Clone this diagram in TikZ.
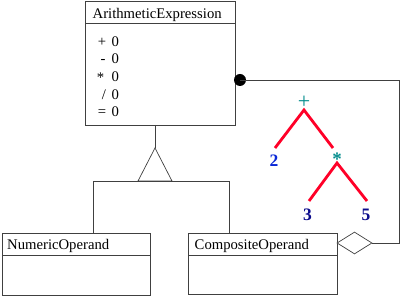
\documentclass[tikz,border=0pt]{standalone}
\usepackage{fontspec}
\setmainfont{Liberation Serif}
\usetikzlibrary{shapes.geometric}
\definecolor{opteal}{RGB}{0,140,140}
\definecolor{numblue}{RGB}{10,40,215}
\definecolor{numnavy}{RGB}{10,10,140}
\definecolor{treered}{RGB}{255,0,40}
\begin{document}
\begin{tikzpicture}[x=1pt,y=-1pt,
  umlline/.style={draw=black!75, line width=0.7pt},
  classbox/.style={draw=black!75, line width=0.7pt, inner sep=0pt, anchor=north west},
  lbl/.style={font=\fontsize{14.7}{16}\selectfont, inner sep=0pt, anchor=base west},
  oplbl/.style={font=\fontsize{14.7}{16}\selectfont, inner sep=0pt, anchor=base},
  treeline/.style={draw=treered, line width=2.8pt},
  opnode/.style={text=opteal, inner sep=0pt},
  numnode/.style={font=\fontsize{17.5}{18}\selectfont\bfseries, inner sep=0pt}]
\path[use as bounding box] (0,0) rectangle (400,296);
\fill[white] (0,0) rectangle (400,296);

% ArithmeticExpression class
\node[classbox, minimum width=150pt, minimum height=124pt] (ae) at (85,1) {};
\draw[umlline] (85,23) -- (235,23);
\node[lbl] (aename) at (92.5,18.5) {ArithmeticExpression};
\node[oplbl] (op1) at (102,47) {+};
\node[oplbl] (op2) at (103,64) {-};
\node[oplbl] (op3) at (100.5,83) {*};
\node[oplbl] (op4) at (104,99.5) {/};
\node[oplbl] (op5) at (102,117) {=};
\node[lbl] (z1) at (111.5,47) {0};
\node[lbl] (z2) at (111.5,64) {0};
\node[lbl] (z3) at (111.5,82) {0};
\node[lbl] (z4) at (111.5,99.5) {0};
\node[lbl] (z5) at (111.5,117) {0};

% NumericOperand class
\node[classbox, minimum width=148pt, minimum height=62pt] (num) at (2,233) {};
\draw[umlline] (2,255) -- (150,255);
\node[lbl] (numname) at (7,250) {NumericOperand};

% CompositeOperand class
\node[classbox, minimum width=149pt, minimum height=61pt] (comp) at (188,233) {};
\draw[umlline] (188,255) -- (337,255);
\node[lbl] (compname) at (194.5,249.5) {CompositeOperand};

% Generalization
\coordinate (gtop) at (155,125);
\coordinate (apex) at (155,148);
\coordinate (bl) at (138,181);
\coordinate (br) at (172,181);
\coordinate (hl) at (93,181);
\coordinate (hr) at (229,181);
\coordinate (numtop) at (93,233);
\coordinate (comptop) at (229,233);
\draw[umlline] (gtop) -- (apex);
\draw[umlline, line join=miter] (apex) -- (bl) -- (br) -- cycle;
\draw[umlline] (numtop) -- (hl) -- (hr) -- (comptop);

% Aggregation
\node[circle, fill=black, inner sep=0pt, minimum size=12pt] (dot) at (240,80) {};
\coordinate (cornerA) at (399,80);
\coordinate (cornerB) at (399,243);
\node[draw=black!75, line width=0.7pt, fill=white, inner sep=0pt, minimum width=35pt, minimum height=22pt, shape=diamond] (dia) at (354.5,243) {};
\draw[umlline] (dot.center) -- (cornerA) -- (cornerB) -- (dia.east);

% Expression tree
\node[opnode, font=\fontsize{22}{22}\selectfont] (plus) at (304,102.5) {+};
\node[opnode, font=\fontsize{19}{20}\selectfont\bfseries] (star) at (337,159) {*};
\node[numnode, text=numblue] (two) at (274,161) {2};
\node[numnode, text=numnavy] (three) at (307.5,214.5) {3};
\node[numnode, text=numnavy] (five) at (366,214.5) {5};
\coordinate (pb) at (304,110);
\coordinate (pl) at (275,148);
\coordinate (pr) at (333,148);
\coordinate (sb) at (337,163);
\coordinate (sl) at (309,201);
\coordinate (sr) at (367,201);
\draw[treeline] (pl) -- (pb) -- (pr);
\draw[treeline] (sl) -- (sb) -- (sr);
\end{tikzpicture}
\end{document}
